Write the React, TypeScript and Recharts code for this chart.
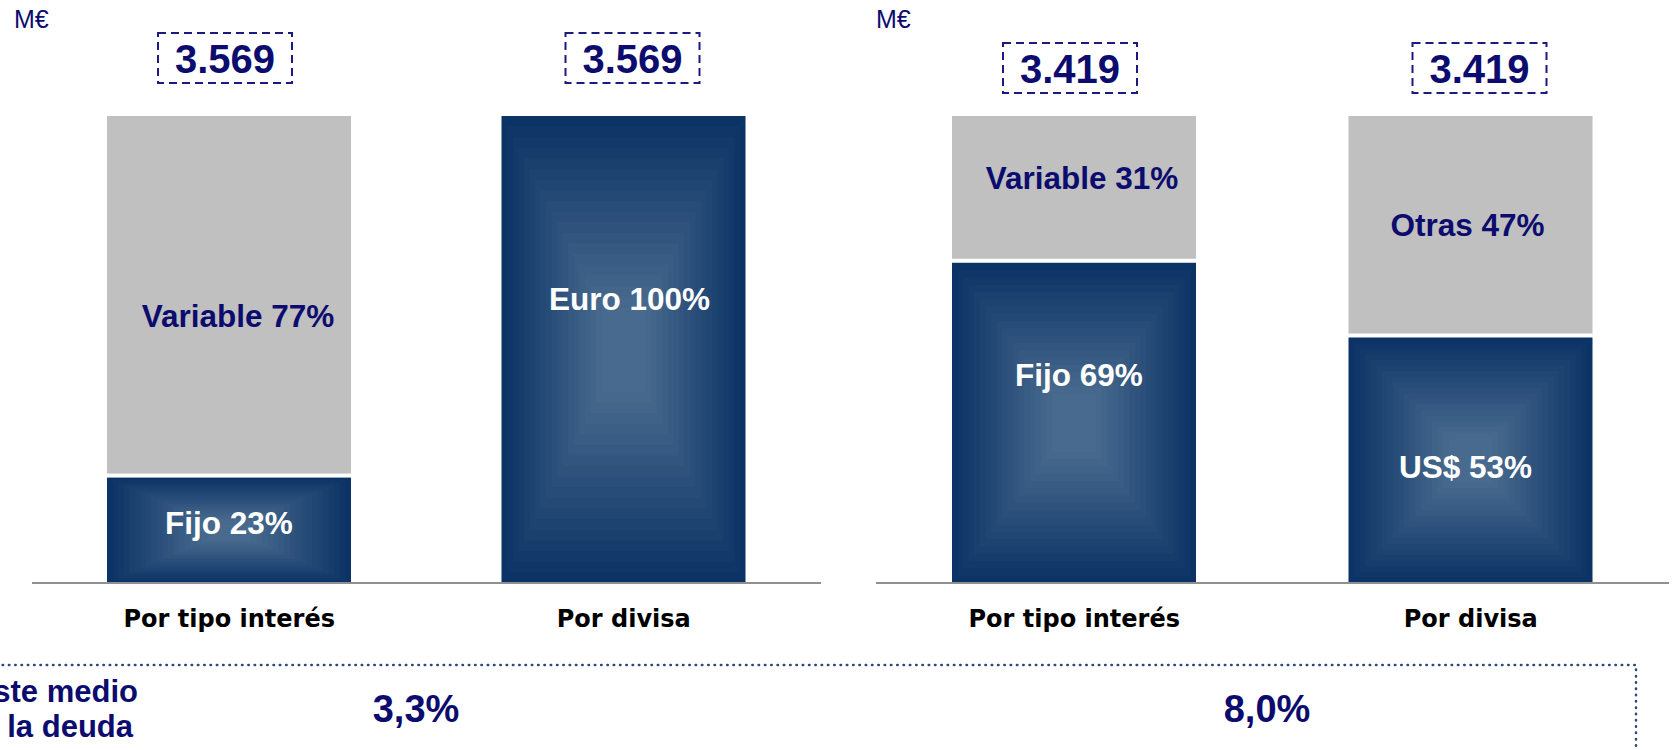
import { Bar, BarChart, LabelList, XAxis, YAxis } from "recharts";

const categories = ["Por tipo interés", "Por divisa"];

// panel izquierdo
const leftBlueNames = ["Fijo", "Euro"];
const leftBlueValues = [23, 100];
const leftGrayNames = ["Variable", "Otras"];
const leftGrayValues = [77, 0];
const leftTotals = [3569, 3569];

// panel derecho
const rightBlueNames = ["Fijo", "US$"];
const rightBlueValues = [69, 53];
const rightGrayNames = ["Variable", "Otras"];
const rightGrayValues = [31, 47];
const rightTotals = [3419, 3419];

const costLabel = "Coste medio de la deuda";
const costValues = [3.3, 8.0];

const NAVY = "#0c0c6e";
const BOX = "#1a1a80";
const GRAY = "#c0c0c0";
const EDGE = [12, 51, 101];
const CENTER = [72, 106, 142];
const STEPS = 22;
const FONT = "'Liberation Sans', Arial, sans-serif";

// label nudges (layout only)
const leftNudge = { blue: [[0, -7], [6, -51]], gray: [[9, 20], [0, 0]] };
const rightNudge = { blue: [[5, -47], [-5, 7]], gray: [[8, -11], [-3, -1]] };
const boxNudge = [-4, 9];

const fmtThousands = (n: number) => String(n).replace(/\B(?=(\d{3})+(?!\d))/g, ".");
const fmtPct = (n: number) => n.toFixed(1).replace(".", ",") + "%";

function mix(t: number) {
  const k = Math.min(1, t / 0.8);
  const c = EDGE.map((e, i) => Math.round(e + (CENTER[i] - e) * k));
  return `rgb(${c[0]},${c[1]},${c[2]})`;
}

function BlueShape(props: any) {
  const { x, y, width, height, payload } = props;
  if (!height || height <= 0) return null;
  const gap = payload.gray > 0 ? 2 : 0;
  const top = y + gap;
  const h = height - gap;
  const rects = [];
  for (let i = 0; i < STEPS; i++) {
    const t = i / STEPS;
    const ix = (width / 2) * t;
    const iy = (h / 2) * t;
    rects.push(
      <rect key={i} x={x + ix} y={top + iy} width={width - 2 * ix} height={h - 2 * iy} fill={mix(t)} />
    );
  }
  return <g>{rects}</g>;
}

function GrayShape(props: any) {
  const { x, y, width, height } = props;
  if (!height || height <= 0) return null;
  return <rect x={x} y={y} width={width} height={height - 2} fill={GRAY} />;
}

function CategoryTick({ x, y, payload }: any) {
  return (
    <text x={x} y={y} dy={44} textAnchor="middle" fontFamily="'DejaVu Sans', Verdana, sans-serif" fontWeight="bold" fontSize={24} fill="#000">
      {payload.value}
    </text>
  );
}

type PanelProps = {
  blueNames: string[];
  blueValues: number[];
  grayNames: string[];
  grayValues: number[];
  totals: number[];
  nudge: { blue: number[][]; gray: number[][] };
  boxOffset: number;
  width: number;
  marginLeft: number;
  marginRight: number;
};

function Panel({ blueNames, blueValues, grayNames, grayValues, totals, nudge, boxOffset, width, marginLeft, marginRight }: PanelProps) {
  const data = categories.map((c, i) => ({ name: c, blue: blueValues[i], gray: grayValues[i] }));

  const segLabel = (names: string[], off: number[][], color: string) => (p: any) => {
    const { x, y, width: w, height: h, value, index } = p;
    if (!value) return null;
    const [dx, dy] = off[index];
    return (
      <text x={x + w / 2 + dx} y={y + h / 2 + dy + 11.5} textAnchor="middle" fontFamily={FONT} fontWeight="bold" fontSize={31.5} fill={color}>
        {`${names[index]} ${value}%`}
      </text>
    );
  };

  const totalLabel = (p: any) => {
    const { x, y, width: w, index } = p;
    const cx = x + w / 2 + boxNudge[index];
    const cy = y - boxOffset;
    return (
      <g>
        <rect x={cx - 67} y={cy - 25} width={134} height={50} fill="none" stroke={BOX} strokeWidth={2} strokeDasharray="8 5" />
        <text x={cx} y={cy + 14.5} textAnchor="middle" fontFamily={FONT} fontWeight="bold" fontSize={40} fill={NAVY}>
          {fmtThousands(totals[index])}
        </text>
      </g>
    );
  };

  return (
    <BarChart width={width} height={650} data={data} margin={{ top: 116, right: marginRight, bottom: 0, left: marginLeft }}>
      <XAxis
        dataKey="name"
        height={67}
        tickLine={false}
        tickSize={0}
        tickMargin={0}
        axisLine={{ stroke: "#909090", strokeWidth: 2 }}
        tick={<CategoryTick />}
        interval={0}
      />
      <YAxis hide domain={[0, 100]} />
      <Bar dataKey="blue" stackId="a" barSize={244} shape={<BlueShape />} isAnimationActive={false}>
        <LabelList dataKey="blue" content={segLabel(blueNames, nudge.blue, "#ffffff")} />
      </Bar>
      <Bar dataKey="gray" stackId="a" barSize={244} shape={<GrayShape />} isAnimationActive={false}>
        <LabelList dataKey="gray" content={segLabel(grayNames, nudge.gray, NAVY)} />
        <LabelList dataKey="gray" content={totalLabel} />
      </Bar>
    </BarChart>
  );
}

export default function App() {
  const [l1, l2] = ["Coste medio", "de la deuda"];
  return (
    <div style={{ position: "absolute", left: 0, top: 0, width: 1672, height: 750, overflow: "hidden", background: "#fff" }}>
      <div style={{ position: "absolute", left: 0, top: 0 }}>
        <Panel
          blueNames={leftBlueNames}
          blueValues={leftBlueValues}
          grayNames={leftGrayNames}
          grayValues={leftGrayValues}
          totals={leftTotals}
          nudge={leftNudge}
          boxOffset={58}
          width={840}
          marginLeft={32}
          marginRight={19}
        />
      </div>
      <div style={{ position: "absolute", left: 840, top: 0 }}>
        <Panel
          blueNames={rightBlueNames}
          blueValues={rightBlueValues}
          grayNames={rightGrayNames}
          grayValues={rightGrayValues}
          totals={rightTotals}
          nudge={rightNudge}
          boxOffset={48}
          width={832}
          marginLeft={36}
          marginRight={3}
        />
      </div>
      <svg width={1672} height={750} style={{ position: "absolute", left: 0, top: 0, pointerEvents: "none" }} aria-label={costLabel}>
        <text x={14} y={28} fontFamily={FONT} fontSize={25} fill={NAVY}>M€</text>
        <text x={876} y={28} fontFamily={FONT} fontSize={25} fill={NAVY}>M€</text>
        <path d="M -10 665 H 1636 V 760" fill="none" stroke="#2a4a7a" strokeWidth={2.5} strokeDasharray="0.5 5.8" strokeLinecap="round" />
        <text x={138} y={702} textAnchor="end" fontFamily={FONT} fontWeight="bold" fontSize={31} fill={NAVY}>{l1}</text>
        <text x={133} y={737} textAnchor="end" fontFamily={FONT} fontWeight="bold" fontSize={31} fill={NAVY}>{l2}</text>
        <text x={416} y={722} textAnchor="middle" fontFamily={FONT} fontWeight="bold" fontSize={38} fill={NAVY}>{fmtPct(costValues[0])}</text>
        <text x={1267} y={722} textAnchor="middle" fontFamily={FONT} fontWeight="bold" fontSize={38} fill={NAVY}>{fmtPct(costValues[1])}</text>
      </svg>
    </div>
  );
}
